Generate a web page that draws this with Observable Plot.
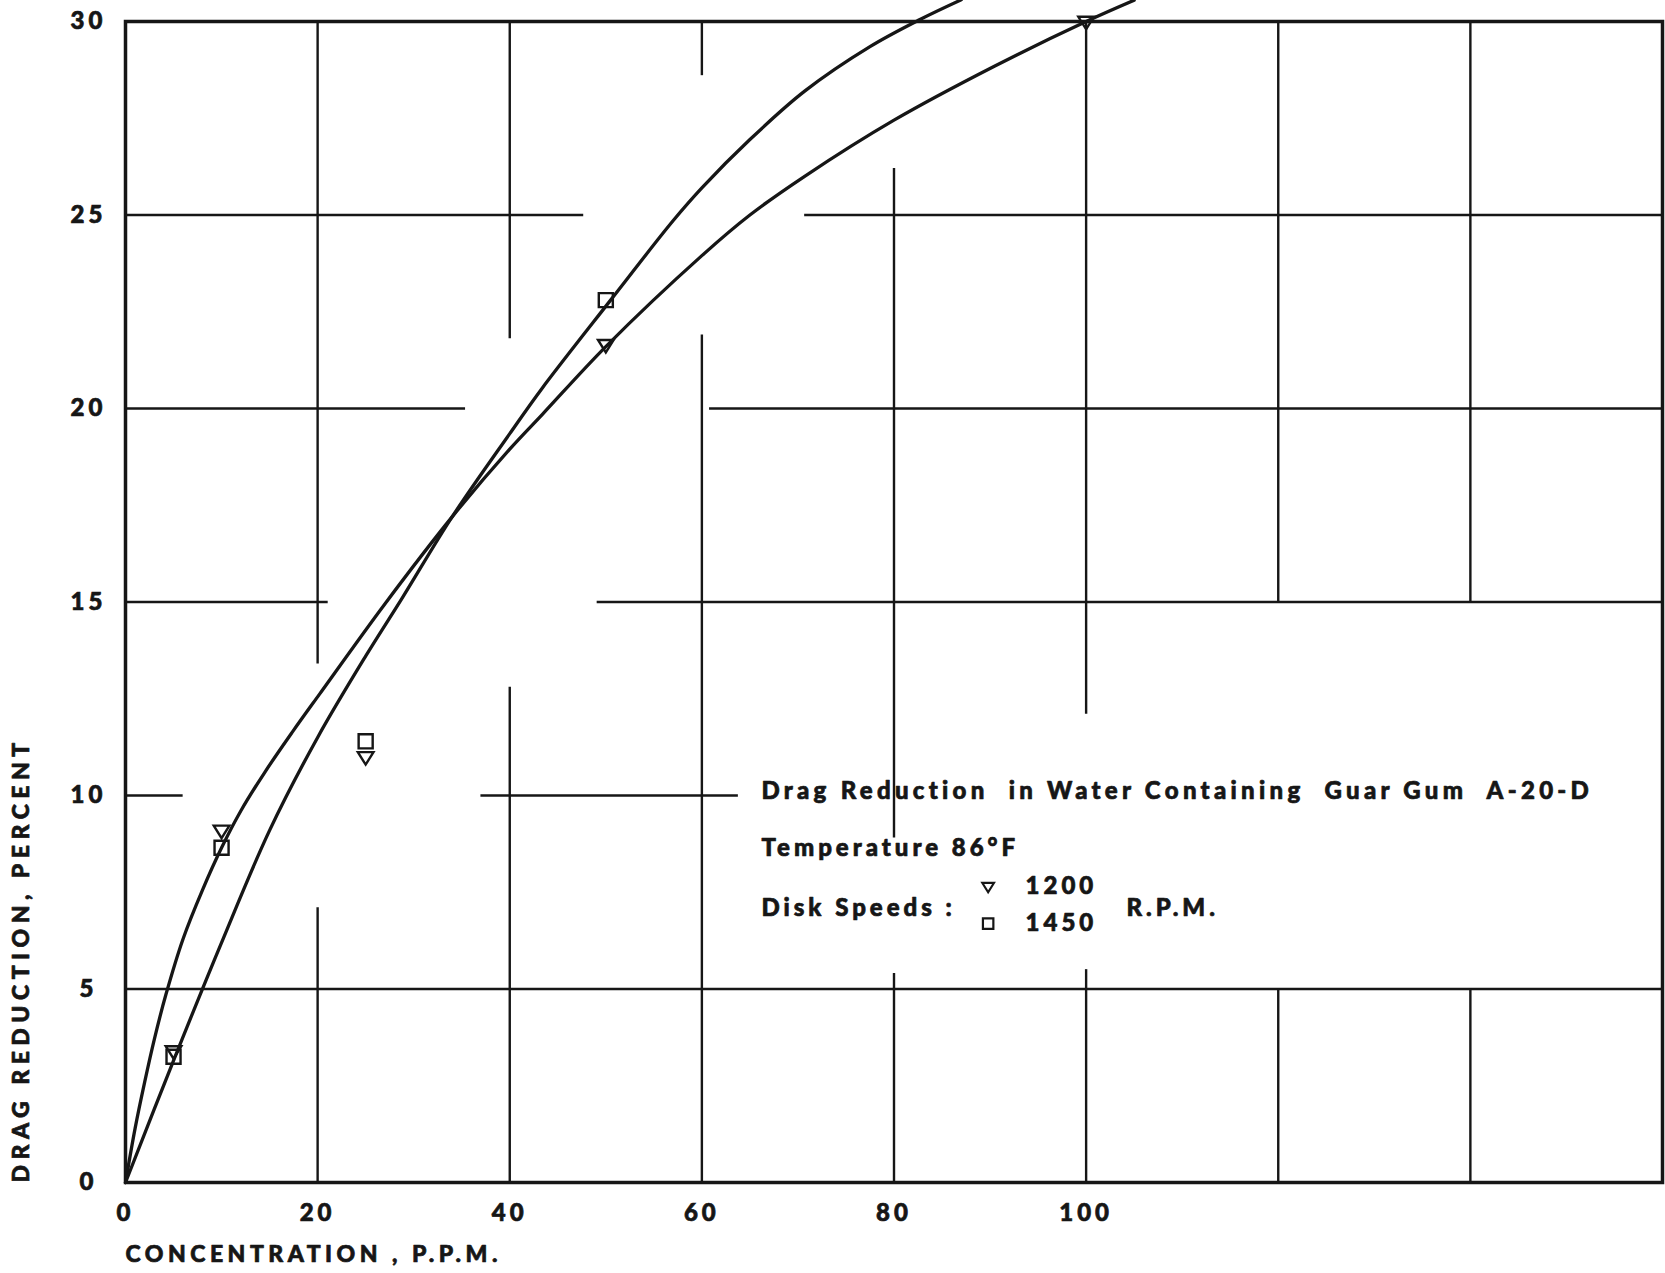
<!DOCTYPE html>
<html>
<head>
<meta charset="utf-8">
<script src="https://cdn.jsdelivr.net/npm/d3@7"></script>
<script src="https://cdn.jsdelivr.net/npm/@observablehq/plot@0.6"></script>
<style>
html, body { margin: 0; padding: 0; background: #fff; }
#chart { width: 1665px; height: 1273px; overflow: hidden; }
#chart svg text { white-space: pre; }
#chart g[aria-label="x-axis tick label"] text { letter-spacing: 4px; stroke: #161616; stroke-width: 0.7px; paint-order: stroke; }
#chart g[aria-label="y-axis tick label"] text { letter-spacing: 4px; stroke: #161616; stroke-width: 0.7px; paint-order: stroke; }
</style>
</head>
<body>
<div id="chart"></div>
<script>
// ---- measured points (concentration ppm, drag reduction %) ----
const conc1200 = [5, 10, 25, 50, 100];
const drag1200 = [3.4, 9.1, 11.0, 21.65, 30.0];
const conc1450 = [5, 10, 25, 50];
const drag1450 = [3.25, 8.65, 11.4, 22.8];

// ---- hand-drawn fitted curves ----
const curve1200X = [0, 1, 2, 3, 4.2, 6, 8, 10, 12, 14.5, 17.4, 20.2, 27, 34, 40, 43.4, 50, 60, 65, 70.7, 80, 90.5, 100, 105];
const curve1200Y = [0, 1.4, 2.6, 3.7, 4.85, 6.3, 7.55, 8.65, 9.6, 10.6, 11.65, 12.62, 14.95, 17.2, 18.95, 19.85, 21.6, 23.95, 25, 26, 27.45, 28.85, 30, 30.55];
const curve1450X = [0, 5, 10, 15, 20, 25, 28.8, 34, 40, 43.3, 50.5, 57, 60, 65, 70.7, 77.5, 82.7, 87];
const curve1450Y = [0, 3.15, 6.2, 9.1, 11.5, 13.6, 15.1, 17.2, 19.35, 20.5, 22.8, 24.85, 25.7, 26.95, 28.2, 29.35, 30.05, 30.56];

// ---- ticks ----
const xTicks = [0, 20, 40, 60, 80, 100];
const yTicks = [0, 5, 10, 15, 20, 25, 30];

// ---- drafted grid (broken) segments, in data units ----
const gridHY    = [25, 25, 20, 20, 15, 15, 10, 10, 5];
const gridHFrom = [0, 70.7, 0, 60.8, 0, 49.1, 0, 37, 0];
const gridHTo   = [47.7, 160, 35.4, 160, 21.1, 160, 6, 63.8, 160];
const gridVX    = [20, 20, 40, 40, 60, 60, 80, 80, 100, 100, 120, 120, 140, 140];
const gridVFrom = [13.4, 0, 21.8, 0, 28.6, 0, 8.9, 0, 12.1, 0, 15, 0, 15, 0];
const gridVTo   = [30, 7.1, 30, 12.8, 30, 21.9, 26.2, 5.4, 30, 5.5, 30, 5, 30, 5];

// ---- texts ----
const xTitle = "CONCENTRATION , P.P.M.";
const yTitle = "DRAG REDUCTION, PERCENT";
const noteLines = ["Drag Reduction  in Water Containing  Guar Gum  A-20-D", "Temperature 86°F", "Disk Speeds :"];
const speedLabels = ["1200", "1450"];
const rpmLabel = "R.P.M.";

// ---- build tables ----
const pts1200 = conc1200.map((x, i) => ({x, y: drag1200[i]}));
const pts1450 = conc1450.map((x, i) => ({x, y: drag1450[i]}));
const line1200 = curve1200X.map((x, i) => ({x, y: curve1200Y[i]}));
const line1450 = curve1450X.map((x, i) => ({x, y: curve1450Y[i]}));
const gridH = gridHY.map((y, i) => ({y, x1: gridHFrom[i], x2: gridHTo[i]}));
const gridV = gridVX.map((x, i) => ({x, y1: gridVFrom[i], y2: gridVTo[i]}));

const ink = "#161616";
const font = "Lato, 'Open Sans', sans-serif";
const heavy = {fontWeight: 900, fill: ink, stroke: ink, strokeWidth: 0.7};

const triangleDown = {
  draw(ctx, size) {
    const r = Math.sqrt(size / Math.PI);
    ctx.moveTo(-r, -0.6 * r);
    ctx.lineTo(r, -0.6 * r);
    ctx.lineTo(0, 1.0 * r);
    ctx.closePath();
  }
};
const squareOpen = {
  draw(ctx, size) {
    const r = Math.sqrt(size / Math.PI) * 0.9;
    ctx.rect(-r, -r, 2 * r, 2 * r);
  }
};

const chart = Plot.plot({
  width: 1665,
  height: 1273,
  marginLeft: 125,
  marginRight: 3,
  marginTop: 21,
  marginBottom: 91,
  x: {domain: [0, 160]},
  y: {domain: [0, 30]},
  style: {fontFamily: font, background: "#fff", color: ink},
  marks: [
    Plot.ruleY(gridH, {y: "y", x1: "x1", x2: "x2", stroke: ink, strokeWidth: 2.4}),
    Plot.ruleX(gridV, {x: "x", y1: "y1", y2: "y2", stroke: ink, strokeWidth: 2.4}),
    Plot.frame({stroke: ink, strokeWidth: 3.5}),
    Plot.line(line1200, {x: "x", y: "y", curve: "catmull-rom", stroke: ink, strokeWidth: 3.3}),
    Plot.line(line1450, {x: "x", y: "y", curve: "catmull-rom", stroke: ink, strokeWidth: 3.3}),
    Plot.dot(pts1200, {x: "x", y: "y", symbol: triangleDown, r: 7.8, stroke: ink, strokeWidth: 2.4, fill: "none"}),
    Plot.dot(pts1450, {x: "x", y: "y", symbol: squareOpen, r: 7.8, stroke: ink, strokeWidth: 2.4, fill: "none"}),
    Plot.axisX({ticks: xTicks, tickSize: 0, tickPadding: 21, fontSize: 24, fontWeight: 900, label: null, fill: ink}),
    Plot.axisY({ticks: yTicks, tickSize: 0, tickPadding: 37, textAnchor: "middle", fontSize: 24, fontWeight: 900, label: null, fill: ink}),
    Plot.text([xTitle], {text: d => d, frameAnchor: "bottom-left", dy: 72, textAnchor: "start", lineAnchor: "middle", fontSize: 23, ...heavy}),
    Plot.text([yTitle], {text: d => d, frameAnchor: "bottom-left", dx: -104, rotate: -90, textAnchor: "start", lineAnchor: "middle", fontSize: 23, ...heavy}),
    // annotation block
    Plot.text([noteLines[0]], {text: d => d, x: 66.2, y: 10.1, textAnchor: "start", fontSize: 24, ...heavy}),
    Plot.text([noteLines[1]], {text: d => d, x: 66.2, y: 8.63, textAnchor: "start", fontSize: 24, ...heavy}),
    Plot.text([noteLines[2]], {text: d => d, x: 66.2, y: 7.08, textAnchor: "start", fontSize: 24, ...heavy}),
    Plot.dot([0], {x: 89.8, y: 7.65, symbol: triangleDown, r: 5.8, stroke: ink, strokeWidth: 2.2, fill: "none"}),
    Plot.dot([0], {x: 89.8, y: 6.69, symbol: squareOpen, r: 5.8, stroke: ink, strokeWidth: 2.2, fill: "none"}),
    Plot.text([speedLabels[0]], {text: d => d, x: 93.7, y: 7.65, textAnchor: "start", fontSize: 24, ...heavy}),
    Plot.text([speedLabels[1]], {text: d => d, x: 93.7, y: 6.69, textAnchor: "start", fontSize: 24, ...heavy}),
    Plot.text([rpmLabel], {text: d => d, x: 104.2, y: 7.08, textAnchor: "start", fontSize: 24, ...heavy})
  ]
});

document.getElementById("chart").appendChild(chart);

// letter spacing for the drafted lettering
d3.select(chart).selectAll("text").each(function () {
  const t = this.textContent;
  if (t === yTitle) this.style.letterSpacing = "5.5px";
  else if (t === xTitle) this.style.letterSpacing = "4.5px";
  else if (t === noteLines[0]) this.style.letterSpacing = "4.3px";
  else if (noteLines.includes(t) || speedLabels.includes(t) || t === rpmLabel) this.style.letterSpacing = "4px";
});
</script>
</body>
</html>
